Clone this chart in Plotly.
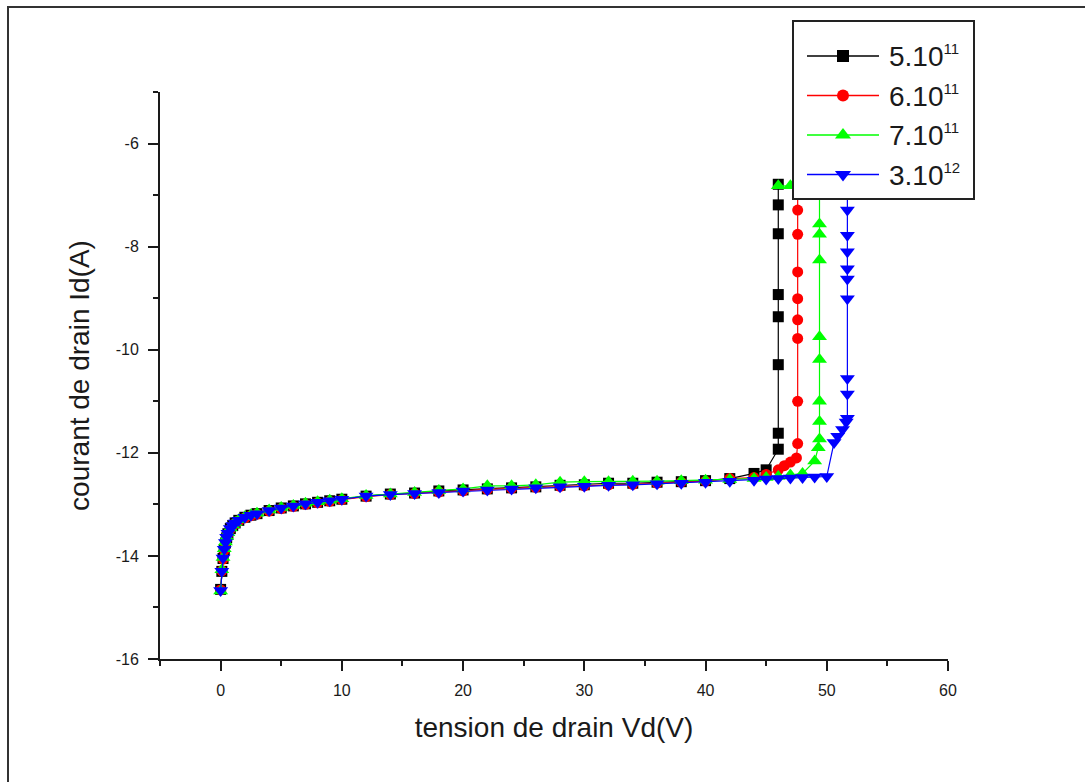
import plotly.graph_objects as go

# Drain current (log10 of Id in A) versus drain voltage Vd (V) for four doping levels.
# Shared sweep points along the low-voltage knee and the saturation plateau.
v_common = [0, 0.1, 0.2, 0.3, 0.4, 0.5, 0.6, 0.8, 1.0, 1.2, 1.5, 2, 2.5, 3, 4, 5, 6, 7, 8, 9, 10,
            12, 14, 16, 18, 20, 22, 24, 26, 28, 30, 32, 34, 36, 38, 40, 42, 44]

# 5.10^11
vd_5e11 = v_common + [45, 46, 46, 46, 46, 46, 46, 46, 46]
id_5e11 = [-14.65, -14.3, -14.05, -13.88, -13.75, -13.65, -13.57, -13.47, -13.41, -13.36, -13.31,
           -13.25, -13.21, -13.18, -13.12, -13.07, -13.03, -12.99, -12.96, -12.93, -12.90,
           -12.84, -12.80, -12.78, -12.74, -12.72, -12.70, -12.68, -12.66, -12.63, -12.62, -12.59,
           -12.59, -12.57, -12.56, -12.54, -12.50, -12.40,
           -12.33, -11.93, -11.62, -10.29, -9.36, -8.93, -7.75, -7.19, -6.79]

# 6.10^11
vd_6e11 = v_common + [45, 46, 46.5, 47, 47.5, 47.6, 47.6, 47.6, 47.6, 47.6, 47.6, 47.6, 47.6, 47.6]
id_6e11 = [-14.66, -14.29, -14.06, -13.89, -13.76, -13.66, -13.58, -13.48, -13.42, -13.37, -13.32,
           -13.26, -13.22, -13.19, -13.13, -13.08, -13.04, -13.00, -12.97, -12.94, -12.91,
           -12.85, -12.81, -12.79, -12.76, -12.74, -12.71, -12.69, -12.67, -12.65, -12.64, -12.62,
           -12.61, -12.59, -12.57, -12.55, -12.50, -12.48,
           -12.42, -12.33, -12.25, -12.18, -12.10, -11.82, -11.00, -9.78, -9.42, -9.01, -8.49,
           -7.76, -7.29, -6.80]

# 7.10^11
vd_7e11 = v_common + [45, 46, 47, 48, 49, 49.3, 49.4, 49.4, 49.4, 49.4, 49.4, 49.4, 49.4, 49.4,
                      49.4, 48, 47, 46]
id_7e11 = [-14.68, -14.27, -14.03, -13.86, -13.73, -13.63, -13.55, -13.46, -13.40, -13.35, -13.30,
           -13.24, -13.20, -13.17, -13.11, -13.06, -13.02, -12.98, -12.95, -12.92, -12.89,
           -12.83, -12.80, -12.77, -12.73, -12.70, -12.64, -12.64, -12.62, -12.57, -12.56, -12.56,
           -12.55, -12.55, -12.54, -12.53, -12.52, -12.50,
           -12.48, -12.46, -12.43, -12.40, -12.16, -11.90, -11.73, -11.39, -11.00, -10.19, -9.75,
           -8.26, -7.76, -7.56, -6.95, -6.83, -6.82, -6.82]

# 3.10^12
vd_3e12 = v_common + [45, 46, 47, 48, 49, 50, 50.6, 50.9, 51.3, 51.6, 51.7, 51.7, 51.7, 51.7,
                      51.7, 51.7, 51.7, 51.7, 51.7, 51.7]
id_3e12 = [-14.67, -14.30, -14.04, -13.87, -13.74, -13.64, -13.56, -13.47, -13.41, -13.36, -13.31,
           -13.25, -13.21, -13.18, -13.12, -13.07, -13.03, -12.99, -12.96, -12.93, -12.90,
           -12.84, -12.81, -12.79, -12.77, -12.74, -12.72, -12.70, -12.68, -12.66, -12.65, -12.63,
           -12.62, -12.60, -12.59, -12.57, -12.55, -12.53,
           -12.51, -12.50, -12.49, -12.48, -12.47, -12.46, -11.80, -11.68, -11.55, -11.40, -11.33,
           -10.86, -10.56, -9.01, -8.63, -8.43, -8.10, -7.78, -7.29, -6.80]

series_mantissa = ["5.10", "6.10", "7.10", "3.10"]
series_exponent = ["11", "11", "11", "12"]
series_colors = ["#000000", "#ff0000", "#00ff00", "#0000ff"]
series_symbols = ["square", "circle", "triangle-up", "triangle-down"]
series_sizes = [11, 11, 13, 13]
key_sizes = [12, 12, 14, 14]

x_ticks = [0, 10, 20, 30, 40, 50, 60]
x_minor = [-5, 5, 15, 25, 35, 45, 55]
y_ticks = [-16, -14, -12, -10, -8, -6]
y_tick_text = ["-16", "-14", "-12", "-10", "-8", "-6"]
y_minor = [-15, -13, -11, -9, -7, -5]

FONT = "Arial, Liberation Sans, sans-serif"
INK = "#1a1a1a"

# Page geometry (pixels)
W, H = 1085, 782
ML, MR, MT, MB = 160, 100, 15, 123
PW, PH = W - ML - MR, H - MT - MB


def px_x(p):
    return (p - ML) / PW


def px_y(p):
    return (H - MB - p) / PH


# Key box drawn as a small inset panel
KEY_L, KEY_R, KEY_T, KEY_B = 794, 973, 22, 198
key_w, key_h = KEY_R - KEY_L, KEY_B - KEY_T
key_rows = [34, 73.5, 113, 152.5]
key_line = [13, 85]
key_mark = 49
key_text = 93

fig = go.Figure()
for i, (vx, iy) in enumerate([(vd_5e11, id_5e11), (vd_6e11, id_6e11),
                               (vd_7e11, id_7e11), (vd_3e12, id_3e12)]):
    label = f"{series_mantissa[i]}<sup>{series_exponent[i]}</sup>"
    fig.add_trace(go.Scatter(
        x=vx, y=iy, mode="lines+markers", name=label, showlegend=False,
        line=dict(color=series_colors[i], width=1.2),
        marker=dict(symbol=series_symbols[i], size=series_sizes[i],
                    color=series_colors[i], line=dict(width=0)),
        xaxis="x", yaxis="y",
    ))

# Key entries: line sample with a marker, and the label text
for i in range(4):
    row = key_rows[i]
    fig.add_trace(go.Scatter(
        x=key_line, y=[row, row], mode="lines", showlegend=False, hoverinfo="skip",
        line=dict(color=series_colors[i], width=1.5), xaxis="x2", yaxis="y2",
    ))
    fig.add_trace(go.Scatter(
        x=[key_mark], y=[row], mode="markers", showlegend=False, hoverinfo="skip",
        marker=dict(symbol=series_symbols[i], size=key_sizes[i],
                    color=series_colors[i], line=dict(width=0)),
        xaxis="x2", yaxis="y2",
    ))
    fig.add_annotation(
        x=key_text, y=row, xref="x2", yref="y2", showarrow=False,
        xanchor="left", yanchor="middle",
        text=f"{series_mantissa[i]}<sup><span style='font-size:15px'>{series_exponent[i]}</span></sup>",
        font=dict(family=FONT, size=28, color=INK),
    )

axis_common = dict(
    showline=True, linewidth=2, linecolor=INK, mirror=False,
    ticks="outside", ticklen=10, tickwidth=1.5, tickcolor=INK,
    showgrid=False, zeroline=False,
    tickfont=dict(family=FONT, size=16, color=INK),
)

fig.update_layout(
    xaxis=dict(
        domain=[0, px_x(948)], anchor="y",
        range=[-5, 60], tickmode="array", tickvals=x_ticks,
        minor=dict(tickvals=x_minor, ticks="outside", ticklen=5, tickwidth=1.5, tickcolor=INK),
        title=dict(text="tension de drain Vd(V)", font=dict(family=FONT, size=28, color=INK),
                   standoff=19),
        ticklabelstandoff=6,
        **axis_common,
    ),
    yaxis=dict(
        domain=[0, px_y(92)], anchor="x",
        range=[-16, -5], tickmode="array", tickvals=y_ticks, ticktext=y_tick_text,
        minor=dict(tickvals=y_minor, ticks="outside", ticklen=5, tickwidth=1.5, tickcolor=INK),
        title=dict(text="courant de drain Id(A)", font=dict(family=FONT, size=28, color=INK),
                   standoff=18),
        ticklabelstandoff=6,
        **axis_common,
    ),
    xaxis2=dict(
        domain=[px_x(KEY_L), px_x(KEY_R)], anchor="y2", range=[0, key_w],
        showline=True, mirror=True, linewidth=2, linecolor="#222222",
        showticklabels=False, ticks="", showgrid=False, zeroline=False, fixedrange=True,
    ),
    yaxis2=dict(
        domain=[px_y(KEY_B), px_y(KEY_T)], anchor="x2", range=[key_h, 0],
        showline=True, mirror=True, linewidth=2, linecolor="#222222",
        showticklabels=False, ticks="", showgrid=False, zeroline=False, fixedrange=True,
    ),
)

# Outer frame around the whole figure
fig.add_shape(type="rect", xref="paper", yref="paper",
              x0=px_x(8), x1=px_x(W + 40), y0=px_y(H + 40), y1=px_y(7),
              line=dict(color="#333333", width=2), fillcolor="rgba(0,0,0,0)", layer="above")

fig.update_layout(
    width=W, height=H,
    margin=dict(l=ML, r=MR, t=MT, b=MB, autoexpand=False),
    paper_bgcolor="white", plot_bgcolor="white",
    font=dict(family=FONT, color=INK),
    showlegend=False,
)

fig.write_html("out.html")
